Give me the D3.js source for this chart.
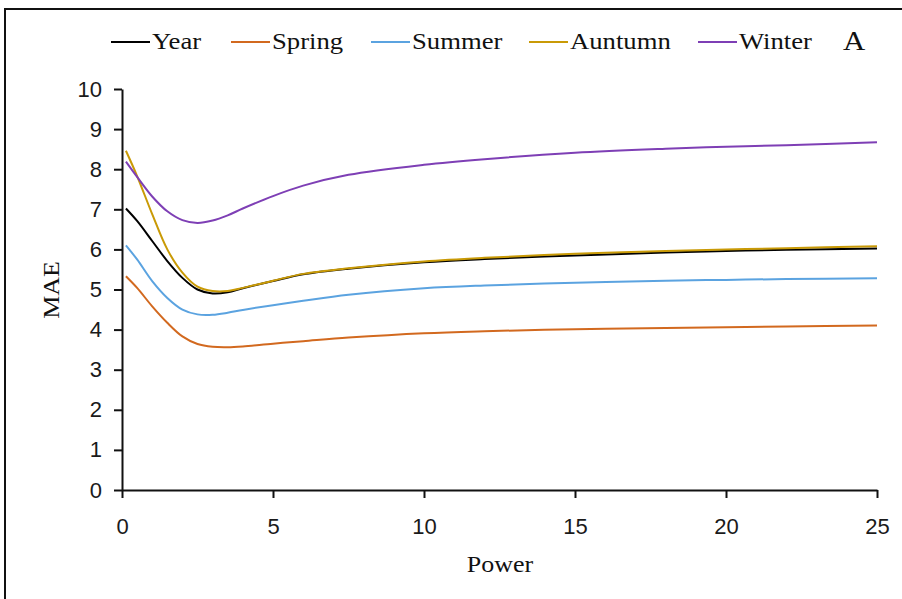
<!DOCTYPE html>
<html>
<head>
<meta charset="utf-8">
<script src="https://cdn.jsdelivr.net/npm/d3@7"></script>
<style>
  body { margin: 0; background: #fff; }
  .tick text { font-family: "Liberation Sans", "DejaVu Sans", sans-serif; font-size: 22px; fill: #1a1a1a; }
  .serif { font-family: "Liberation Serif", "DejaVu Serif", serif; fill: #111; }
</style>
</head>
<body>
<div id="vis"></div>
<script>
// power values (x) shared by every series
const power = [0.13, 0.5, 1, 1.5, 2, 2.5, 3, 3.5, 4, 5, 6, 7.5, 10, 12, 15, 18, 20, 22, 25];

const year   = [7.02, 6.71, 6.21, 5.71, 5.29, 5.00, 4.90, 4.93, 5.03, 5.21, 5.38, 5.52, 5.68, 5.76, 5.85, 5.92, 5.96, 5.99, 6.02];
const spring = [5.33, 5.04, 4.58, 4.17, 3.83, 3.64, 3.57, 3.56, 3.58, 3.65, 3.71, 3.80, 3.91, 3.96, 4.01, 4.04, 4.06, 4.08, 4.10];
const summer = [6.10, 5.75, 5.21, 4.79, 4.50, 4.38, 4.37, 4.42, 4.49, 4.61, 4.72, 4.87, 5.03, 5.10, 5.17, 5.22, 5.24, 5.26, 5.28];
const autumn = [8.46, 7.83, 6.88, 6.00, 5.42, 5.07, 4.96, 4.96, 5.04, 5.22, 5.39, 5.53, 5.70, 5.79, 5.89, 5.96, 6.00, 6.03, 6.08];
const winter = [8.19, 7.81, 7.32, 6.95, 6.73, 6.66, 6.72, 6.85, 7.02, 7.33, 7.59, 7.86, 8.11, 8.25, 8.41, 8.51, 8.56, 8.60, 8.67];

const seriesNames = ["Year", "Spring", "Summer", "Auntumn", "Winter"];
const seriesColors = ["#000000", "#d2691f", "#5ba3e0", "#c99a06", "#7e3fb5"];
const seriesValues = [year, spring, summer, autumn, winter];

const xTicks = [0, 5, 10, 15, 20, 25];
const yTicks = [0, 1, 2, 3, 4, 5, 6, 7, 8, 9, 10];

const width = 902;
const height = 599;

const svg = d3.select("#vis").append("svg")
  .attr("width", width).attr("height", height);

// outer frame
svg.append("rect")
  .attr("x", 5).attr("y", 9)
  .attr("width", width + 20).attr("height", height + 20)
  .attr("fill", "none").attr("stroke", "#111").attr("stroke-width", 2);

const x = d3.scaleLinear().domain([0, 25]).range([122, 877]);
const y = d3.scaleLinear().domain([0, 10]).range([490, 89]);

// x axis
const xAxis = svg.append("g")
  .attr("transform", `translate(0,${y(0)})`)
  .call(d3.axisBottom(x).tickValues(xTicks).tickSize(8).tickPadding(20).tickSizeOuter(0));
xAxis.select(".domain").attr("stroke", "#111").attr("stroke-width", 2);
xAxis.selectAll(".tick line").attr("stroke", "#111").attr("stroke-width", 2);

// y axis
const yAxis = svg.append("g")
  .attr("transform", `translate(${x(0)},0)`)
  .call(d3.axisLeft(y).tickValues(yTicks).tickSize(8).tickPadding(12).tickSizeOuter(0));
yAxis.select(".domain").attr("stroke", "#111").attr("stroke-width", 2);
yAxis.selectAll(".tick line").attr("stroke", "#111").attr("stroke-width", 2);

// axis titles (the original glyphs are a bit wide, so stretch them)
svg.append("text").attr("class", "serif")
  .attr("transform", "translate(500,572) scale(1.13,1)")
  .attr("text-anchor", "middle").style("font-size", "23px")
  .text("Power");

svg.append("text").attr("class", "serif")
  .attr("transform", "translate(59,290) rotate(-90) scale(1.13,1)")
  .attr("text-anchor", "middle").style("font-size", "23px")
  .text("MAE");

// lines
const line = d3.line()
  .x((d, i) => x(power[i]))
  .y(d => y(d))
  .curve(d3.curveCatmullRom.alpha(0.5));

seriesValues.forEach((vals, k) => {
  svg.append("path")
    .datum(vals)
    .attr("fill", "none")
    .attr("stroke", seriesColors[k])
    .attr("stroke-width", 2)
    .attr("d", line);
});

// legend
const legendX = [111, 231, 371, 529, 698];
const legend = svg.append("g");
seriesNames.forEach((name, k) => {
  legend.append("line")
    .attr("x1", legendX[k]).attr("x2", legendX[k] + 39)
    .attr("y1", 42).attr("y2", 42)
    .attr("stroke", seriesColors[k]).attr("stroke-width", 2);
  legend.append("text").attr("class", "serif")
    .attr("transform", `translate(${legendX[k] + 41},49) scale(1.16,1)`)
    .style("font-size", "23px")
    .text(name);
});

svg.append("text").attr("class", "serif")
  .attr("transform", "translate(843,50) scale(1.1,1)")
  .style("font-size", "28px")
  .text("A");
</script>
</body>
</html>
